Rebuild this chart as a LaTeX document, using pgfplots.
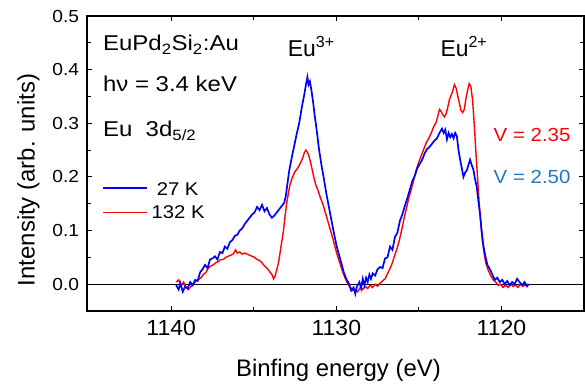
\documentclass[border=0pt]{standalone}
\usepackage{fontspec}
\setmainfont{Liberation Sans}
\usepackage{pgfplots}
\pgfplotsset{compat=1.18}
\definecolor{vblue}{RGB}{30,120,200}
\begin{document}
\begin{tikzpicture}
\useasboundingbox (-87bp,-73bp) rectangle (498bp,311bp);
\begin{axis}[
  at={(0,0)}, anchor=south west,
  scale only axis, width=497bp, height=295bp,
  x dir=reverse, xmin=1115, xmax=1145.1, ymin=-0.05, ymax=0.5,
  xtick={1120,1130,1140}, minor x tick num=1,
  ytick={0,0.1,0.2,0.3,0.4,0.5}, minor y tick num=1,
  tick align=inside, xtick pos=both, ytick pos=both,
  major tick length=5bp, minor tick length=4bp,
  every tick/.style={black, line width=0.9bp},
  axis line style={line width=1.2bp},
  /pgf/number format/assume math mode=true,
  x tick label style={/pgf/number format/1000 sep={}, font=\fontsize{22}{26}\selectfont, xscale=1.05, inner sep=0pt, anchor=north, yshift=-9bp},
  y tick label style={/pgf/number format/.cd, fixed, fixed zerofill, precision=1, /tikz/.cd, font=\fontsize{17.5}{21}\selectfont, xscale=1.1, inner sep=0pt, anchor=east, xshift=-7bp},
  xlabel={Binfing energy (eV)},
  ylabel={Intensity (arb. units)},
  xlabel style={font=\fontsize{24}{28}\selectfont, at={(axis description cs:0.506,-0.2)}, anchor=center},
  ylabel style={font=\fontsize{24}{28}\selectfont, at={(axis description cs:-0.118,0.444)}, anchor=center},
]
\addplot[black, line width=0.8bp] coordinates {(1115,0) (1145.1,0)};
\addplot[red, line width=1.4bp] coordinates {
(1139.70,0.004) (1139.55,0.008) (1139.40,-0.002) (1139.25,0.004) (1139.10,-0.006) (1138.95,-0.010)
(1138.80,-0.004) (1138.65,0.000) (1138.50,0.006) (1138.35,0.008) (1138.20,0.012) (1138.05,0.018)
(1137.90,0.022) (1137.75,0.030) (1137.60,0.034) (1137.45,0.036) (1137.30,0.040) (1137.15,0.042)
(1137.00,0.046) (1136.85,0.046) (1136.70,0.050) (1136.55,0.052) (1136.40,0.054) (1136.25,0.056)
(1136.10,0.064) (1136.00,0.058) (1135.85,0.060) (1135.70,0.056) (1135.55,0.058) (1135.40,0.056)
(1135.25,0.054) (1135.10,0.052) (1134.95,0.050) (1134.80,0.046) (1134.65,0.044) (1134.50,0.040)
(1134.35,0.034) (1134.20,0.030) (1134.05,0.024) (1133.90,0.018) (1133.80,0.010) (1133.70,0.016)
(1133.60,0.028) (1133.50,0.040) (1133.40,0.060) (1133.30,0.080) (1133.20,0.100) (1133.10,0.128)
(1133.00,0.152) (1132.90,0.170) (1132.80,0.186) (1132.65,0.200) (1132.50,0.210) (1132.35,0.216)
(1132.20,0.224) (1132.05,0.234) (1131.95,0.244) (1131.85,0.250) (1131.75,0.246) (1131.65,0.238)
(1131.55,0.226) (1131.45,0.212) (1131.35,0.198) (1131.25,0.186) (1131.10,0.174) (1130.95,0.160)
(1130.80,0.148) (1130.65,0.132) (1130.50,0.116) (1130.35,0.100) (1130.20,0.084) (1130.05,0.066)
(1129.90,0.050) (1129.75,0.036) (1129.60,0.022) (1129.45,0.010) (1129.30,0.000) (1129.15,-0.006)
(1129.00,-0.012) (1128.85,-0.010) (1128.70,-0.014) (1128.55,-0.006) (1128.40,-0.010) (1128.25,-0.004)
(1128.10,-0.008) (1127.95,-0.002) (1127.80,-0.006) (1127.65,0.000) (1127.50,-0.004) (1127.35,0.002)
(1127.20,0.006) (1127.05,0.010) (1126.95,0.016) (1126.80,0.026) (1126.65,0.036) (1126.50,0.050)
(1126.35,0.064) (1126.20,0.080) (1126.05,0.100) (1125.90,0.122) (1125.75,0.142) (1125.60,0.162)
(1125.45,0.178) (1125.30,0.196) (1125.15,0.214) (1125.00,0.228) (1124.85,0.240) (1124.70,0.252)
(1124.55,0.264) (1124.40,0.272) (1124.25,0.282) (1124.10,0.294) (1123.95,0.302) (1123.85,0.314)
(1123.75,0.326) (1123.65,0.322) (1123.55,0.316) (1123.45,0.312) (1123.35,0.318) (1123.25,0.330)
(1123.15,0.344) (1123.05,0.352) (1122.95,0.360) (1122.85,0.372) (1122.75,0.366) (1122.65,0.352)
(1122.55,0.338) (1122.45,0.324) (1122.35,0.320) (1122.25,0.326) (1122.15,0.346) (1122.05,0.362)
(1121.95,0.374) (1121.85,0.368) (1121.75,0.344) (1121.65,0.300) (1121.55,0.248) (1121.45,0.200)
(1121.35,0.152) (1121.25,0.112) (1121.15,0.080) (1121.05,0.058) (1120.95,0.040) (1120.80,0.026)
(1120.65,0.016) (1120.50,0.008) (1120.35,0.004) (1120.20,-0.002) (1120.05,0.000) (1119.90,-0.006)
(1119.75,-0.002) (1119.60,-0.006) (1119.45,0.000) (1119.30,-0.004) (1119.15,-0.002) (1119.00,-0.006)
(1118.85,0.000) (1118.70,-0.004) (1118.55,-0.002) (1118.40,0.000)
};
\addplot[blue, line width=1.7bp] coordinates {
(1139.70,-0.002) (1139.55,-0.010) (1139.45,0.002) (1139.30,-0.014) (1139.15,-0.004) (1139.00,-0.008)
(1138.85,0.004) (1138.70,-0.002) (1138.55,0.008) (1138.40,0.006) (1138.25,0.022) (1138.10,0.028)
(1137.95,0.036) (1137.80,0.030) (1137.65,0.046) (1137.50,0.048) (1137.35,0.052) (1137.20,0.046)
(1137.05,0.060) (1136.90,0.058) (1136.75,0.070) (1136.60,0.066) (1136.45,0.078) (1136.30,0.082)
(1136.15,0.090) (1136.00,0.092) (1135.85,0.100) (1135.70,0.104) (1135.55,0.112) (1135.40,0.118)
(1135.25,0.124) (1135.10,0.130) (1134.95,0.134) (1134.80,0.144) (1134.65,0.138) (1134.50,0.148)
(1134.35,0.136) (1134.20,0.142) (1134.05,0.130) (1133.90,0.124) (1133.75,0.128) (1133.60,0.134)
(1133.45,0.140) (1133.30,0.146) (1133.15,0.152) (1133.05,0.166) (1132.95,0.190) (1132.85,0.212)
(1132.70,0.236) (1132.55,0.258) (1132.40,0.280) (1132.25,0.300) (1132.10,0.328) (1131.95,0.352)
(1131.85,0.370) (1131.75,0.386) (1131.68,0.372) (1131.60,0.378) (1131.50,0.360) (1131.40,0.338)
(1131.30,0.312) (1131.20,0.290) (1131.05,0.252) (1130.90,0.222) (1130.75,0.196) (1130.60,0.168)
(1130.45,0.144) (1130.30,0.120) (1130.15,0.096) (1130.00,0.074) (1129.85,0.056) (1129.70,0.040)
(1129.55,0.022) (1129.40,0.010) (1129.25,0.002) (1129.10,-0.012) (1128.95,-0.006) (1128.85,-0.018)
(1128.75,-0.004) (1128.60,0.004) (1128.50,-0.008) (1128.40,0.010) (1128.30,-0.002) (1128.20,0.012)
(1128.10,0.004) (1128.00,0.018) (1127.90,0.010) (1127.80,0.020) (1127.65,0.016) (1127.50,0.028)
(1127.35,0.032) (1127.20,0.030) (1127.05,0.048) (1126.90,0.050) (1126.75,0.070) (1126.60,0.064)
(1126.45,0.088) (1126.30,0.096) (1126.15,0.118) (1126.00,0.130) (1125.85,0.146) (1125.70,0.160)
(1125.55,0.176) (1125.40,0.192) (1125.25,0.202) (1125.10,0.216) (1124.95,0.224) (1124.80,0.232)
(1124.65,0.244) (1124.50,0.252) (1124.35,0.256) (1124.20,0.262) (1124.05,0.268) (1123.90,0.272)
(1123.75,0.282) (1123.60,0.290) (1123.50,0.282) (1123.40,0.288) (1123.30,0.270) (1123.20,0.282)
(1123.10,0.274) (1123.00,0.280) (1122.90,0.272) (1122.80,0.282) (1122.70,0.276) (1122.60,0.250)
(1122.50,0.232) (1122.40,0.216) (1122.30,0.200) (1122.20,0.208) (1122.10,0.212) (1122.00,0.222)
(1121.90,0.232) (1121.80,0.222) (1121.70,0.214) (1121.60,0.196) (1121.50,0.182) (1121.40,0.156)
(1121.30,0.132) (1121.20,0.100) (1121.10,0.074) (1121.00,0.056) (1120.85,0.036) (1120.70,0.028)
(1120.55,0.018) (1120.40,0.008) (1120.25,0.012) (1120.10,0.004) (1119.95,0.008) (1119.80,0.000)
(1119.65,0.006) (1119.50,-0.002) (1119.35,0.004) (1119.20,0.000) (1119.05,0.010) (1118.90,0.004)
(1118.75,-0.002) (1118.60,0.004) (1118.45,-0.004) (1118.35,0.000)
};
% legend samples
\addplot[blue, line width=1.9bp] coordinates {(1144.12,0.1785) (1141.45,0.1785)};
\addplot[red, line width=1.7bp] coordinates {(1144.12,0.1338) (1141.45,0.1338)};
\node[anchor=base, inner sep=0pt, font=\fontsize{18.5}{22}\selectfont, xscale=1.1] at (axis cs:1139.61,0.166) {27 K};
\node[anchor=base, inner sep=0pt, font=\fontsize{18.5}{22}\selectfont, xscale=1.1] at (axis cs:1139.58,0.1231) {132 K};
\node[anchor=base west, inner sep=0pt, font=\fontsize{21.5}{26}\selectfont, xscale=1.12] at (axis cs:1144.14,0.435) {EuPd\textsubscript{2}Si\textsubscript{2}:Au};
\node[anchor=base west, inner sep=0pt, font=\fontsize{21.5}{26}\selectfont, xscale=1.12] at (axis cs:1144.14,0.359) {hν = 3.4 keV};
\node[anchor=base west, inner sep=0pt, font=\fontsize{21.5}{26}\selectfont, xscale=1.12] at (axis cs:1144.14,0.275) {Eu\ \ 3d\textsubscript{5/2}};
\node[anchor=base west, inner sep=0pt, font=\fontsize{23}{27}\selectfont] at (axis cs:1132.95,0.4254) {Eu\textsuperscript{3+}};
\node[anchor=base west, inner sep=0pt, font=\fontsize{23}{27}\selectfont] at (axis cs:1123.7,0.4254) {Eu\textsuperscript{2+}};
\node[anchor=base west, inner sep=0pt, font=\fontsize{19}{23}\selectfont, xscale=1.08, text=red] at (axis cs:1120.48,0.2668) {V = 2.35};
\node[anchor=base west, inner sep=0pt, font=\fontsize{19}{23}\selectfont, xscale=1.08, text=vblue] at (axis cs:1120.48,0.1879) {V = 2.50};
\end{axis}
\end{tikzpicture}
\end{document}
